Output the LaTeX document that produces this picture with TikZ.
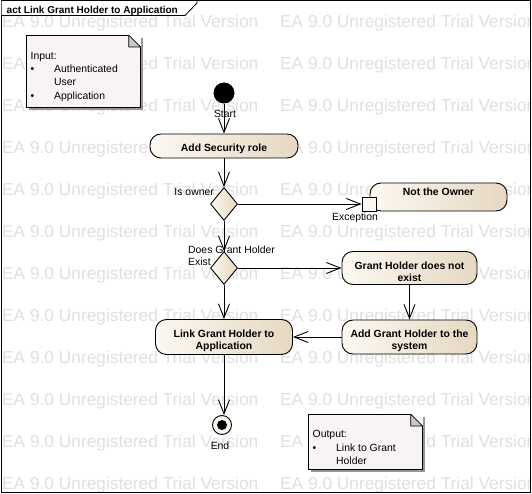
\documentclass[tikz,border=0pt]{standalone}
\usepackage{fontspec}
\setmainfont{Liberation Sans}
\usetikzlibrary{arrows.meta, shapes.geometric}
\definecolor{wmark}{RGB}{224,224,224}
\definecolor{actlight}{RGB}{252,248,241}
\definecolor{actdark}{RGB}{230,216,194}
\definecolor{notefill}{RGB}{247,243,247}
\definecolor{notesh}{RGB}{150,150,150}
\definecolor{foldgray}{RGB}{200,200,200}

\begin{document}
\begin{tikzpicture}[x=1pt, y=-1pt,
  font=\fontsize{10.4}{13.2}\selectfont,
  flow/.style={draw=black, line width=0.9pt, -{Straight Barb[length=14pt,width=11pt]}},
  action/.style={draw=black, line width=0.9pt, rounded corners=11pt, left color=actlight, right color=actdark,
    align=center, inner sep=0pt, text height=13.5pt, font=\fontsize{10.4}{12.7}\selectfont\bfseries},
  twoline/.style={text height=28pt},
  decision/.style={diamond, draw=black, line width=0.9pt, left color=actlight, right color=actdark,
    minimum width=27pt, minimum height=33pt, inner sep=0pt},
  lbl/.style={inner sep=0pt},
  note/.style={draw=black, line width=0.7pt, fill=notefill, inner sep=0pt, anchor=north west},
  noteshadow/.style={fill=notesh, inner sep=0pt, anchor=north west},
  watermark/.style={text=wmark, inner sep=0pt, anchor=west, font=\fontsize{17.3}{20}\selectfont}]
\useasboundingbox (0,0) rectangle (532,494);
\fill[white] (0,0) rectangle (532,494);
\foreach \row in {0,...,11}
  \foreach \col in {0,1}
    \node[watermark] (wm-\row-\col) at (2+278*\col, 23.5+42*\row) {EA 9.0 Unregistered Trial Version};
\draw[line width=0.8pt] (1.5,0.5) rectangle (530.5,492.5);
\draw[line width=0.8pt, fill=white] (1.5,0.5) -- (197,0.5) -- (197,3) -- (185,15.5) -- (1.5,15.5);
\node[anchor=base west, inner sep=0pt, font=\bfseries] (title) at (6.5,13.3) {act Link Grant Holder to Application};

\foreach \nx/\ny/\nw/\nh/\nm in {26/35/114/72/inputnote, 308/414/114/55/outputnote} {
  \node[noteshadow, minimum width=\nw pt, minimum height=\nh pt] (\nm-sh) at (\nx+3,\ny+3) {};
  \node[note, minimum width=\nw pt, minimum height=\nh pt] (\nm) at (\nx,\ny) {};
  \fill[white] ([xshift=-12.4pt]\nm.north east) -- ([xshift=0.4pt,yshift=0.4pt]\nm.north east) -- ([yshift=-12.4pt]\nm.north east) -- cycle;
  \draw[line width=0.7pt, fill=foldgray, line join=bevel] ([xshift=-12pt]\nm.north east) -- ([xshift=-12pt,yshift=-12pt]\nm.north east) -- ([yshift=-12pt]\nm.north east) -- cycle;
}
\node[lbl, anchor=north west] (inputtext) at (30.5,50) {\begin{tabular}{@{}p{23.5pt}@{}l@{}}
  \multicolumn{2}{@{}l@{}}{Input:}\\
  \textbullet & Authenticated\\
  & User\\
  \textbullet & Application
\end{tabular}};
\node[lbl, anchor=north west] (outputtext) at (312.5,428.5) {\begin{tabular}{@{}p{23.5pt}@{}l@{}}
  \multicolumn{2}{@{}l@{}}{Output:}\\
  \textbullet & Link to Grant\\
  & Holder
\end{tabular}};

\node[circle, fill=black, minimum size=21pt, inner sep=0pt] (start) at (224,93) {};
\node[lbl] (startlbl) at (225,114) {Start};
\node[action, minimum width=148pt, minimum height=24pt] (secrole) at (224,146) {Add Security role};
\node[decision] (isowner) at (224,204) {};
\node[lbl, anchor=east] (isownerlbl) at (214,192) {Is owner};
\node[action, minimum width=137pt, minimum height=28pt, text height=7.5pt, text depth=10pt] (notowner) at (438.5,197) {Not the Owner};
\node[draw=black, line width=0.9pt, fill=actlight, minimum size=14pt, inner sep=0pt] (exc) at (369,204) {};
\node[lbl] (exclbl) at (355,218) {Exception};
\node[decision] (holderexists) at (224,268) {};
\node[lbl, anchor=north west, align=left, font=\fontsize{10.4}{12.7}\selectfont] (existlbl) at (188,245.5) {Does Grant Holder\\Exist};
\node[action, twoline, minimum width=135pt, minimum height=33pt] (noholder) at (409.5,268) {Grant Holder does not\\exist};
\node[action, twoline, minimum width=135pt, minimum height=34pt] (addholder) at (409.5,337) {Add Grant Holder to the\\system};
\node[action, twoline, minimum width=137pt, minimum height=35pt] (linkholder) at (224,337) {Link Grant Holder to\\Application};
\node[circle, draw=black, line width=0.9pt, fill=actlight, minimum size=19pt, inner sep=0pt] (stop) at (222,425) {};
\node[circle, fill=black, minimum size=10pt, inner sep=0pt] (stopdot) at (stop) {};
\node[lbl] (endlbl) at (220,445.5) {End};

\draw[flow] (start) -- (secrole);
\draw[flow] (secrole) -- (isowner);
\draw[flow] (isowner) -- (exc);
\draw[flow] (isowner) -- (holderexists);
\draw[flow] (holderexists) -- (noholder);
\draw[flow] (noholder) -- (addholder);
\draw[flow] (addholder) -- (linkholder);
\draw[flow] (holderexists) -- (linkholder);
\draw[flow] (linkholder.south) -- (linkholder.south |- stop.north);
\end{tikzpicture}
\end{document}
